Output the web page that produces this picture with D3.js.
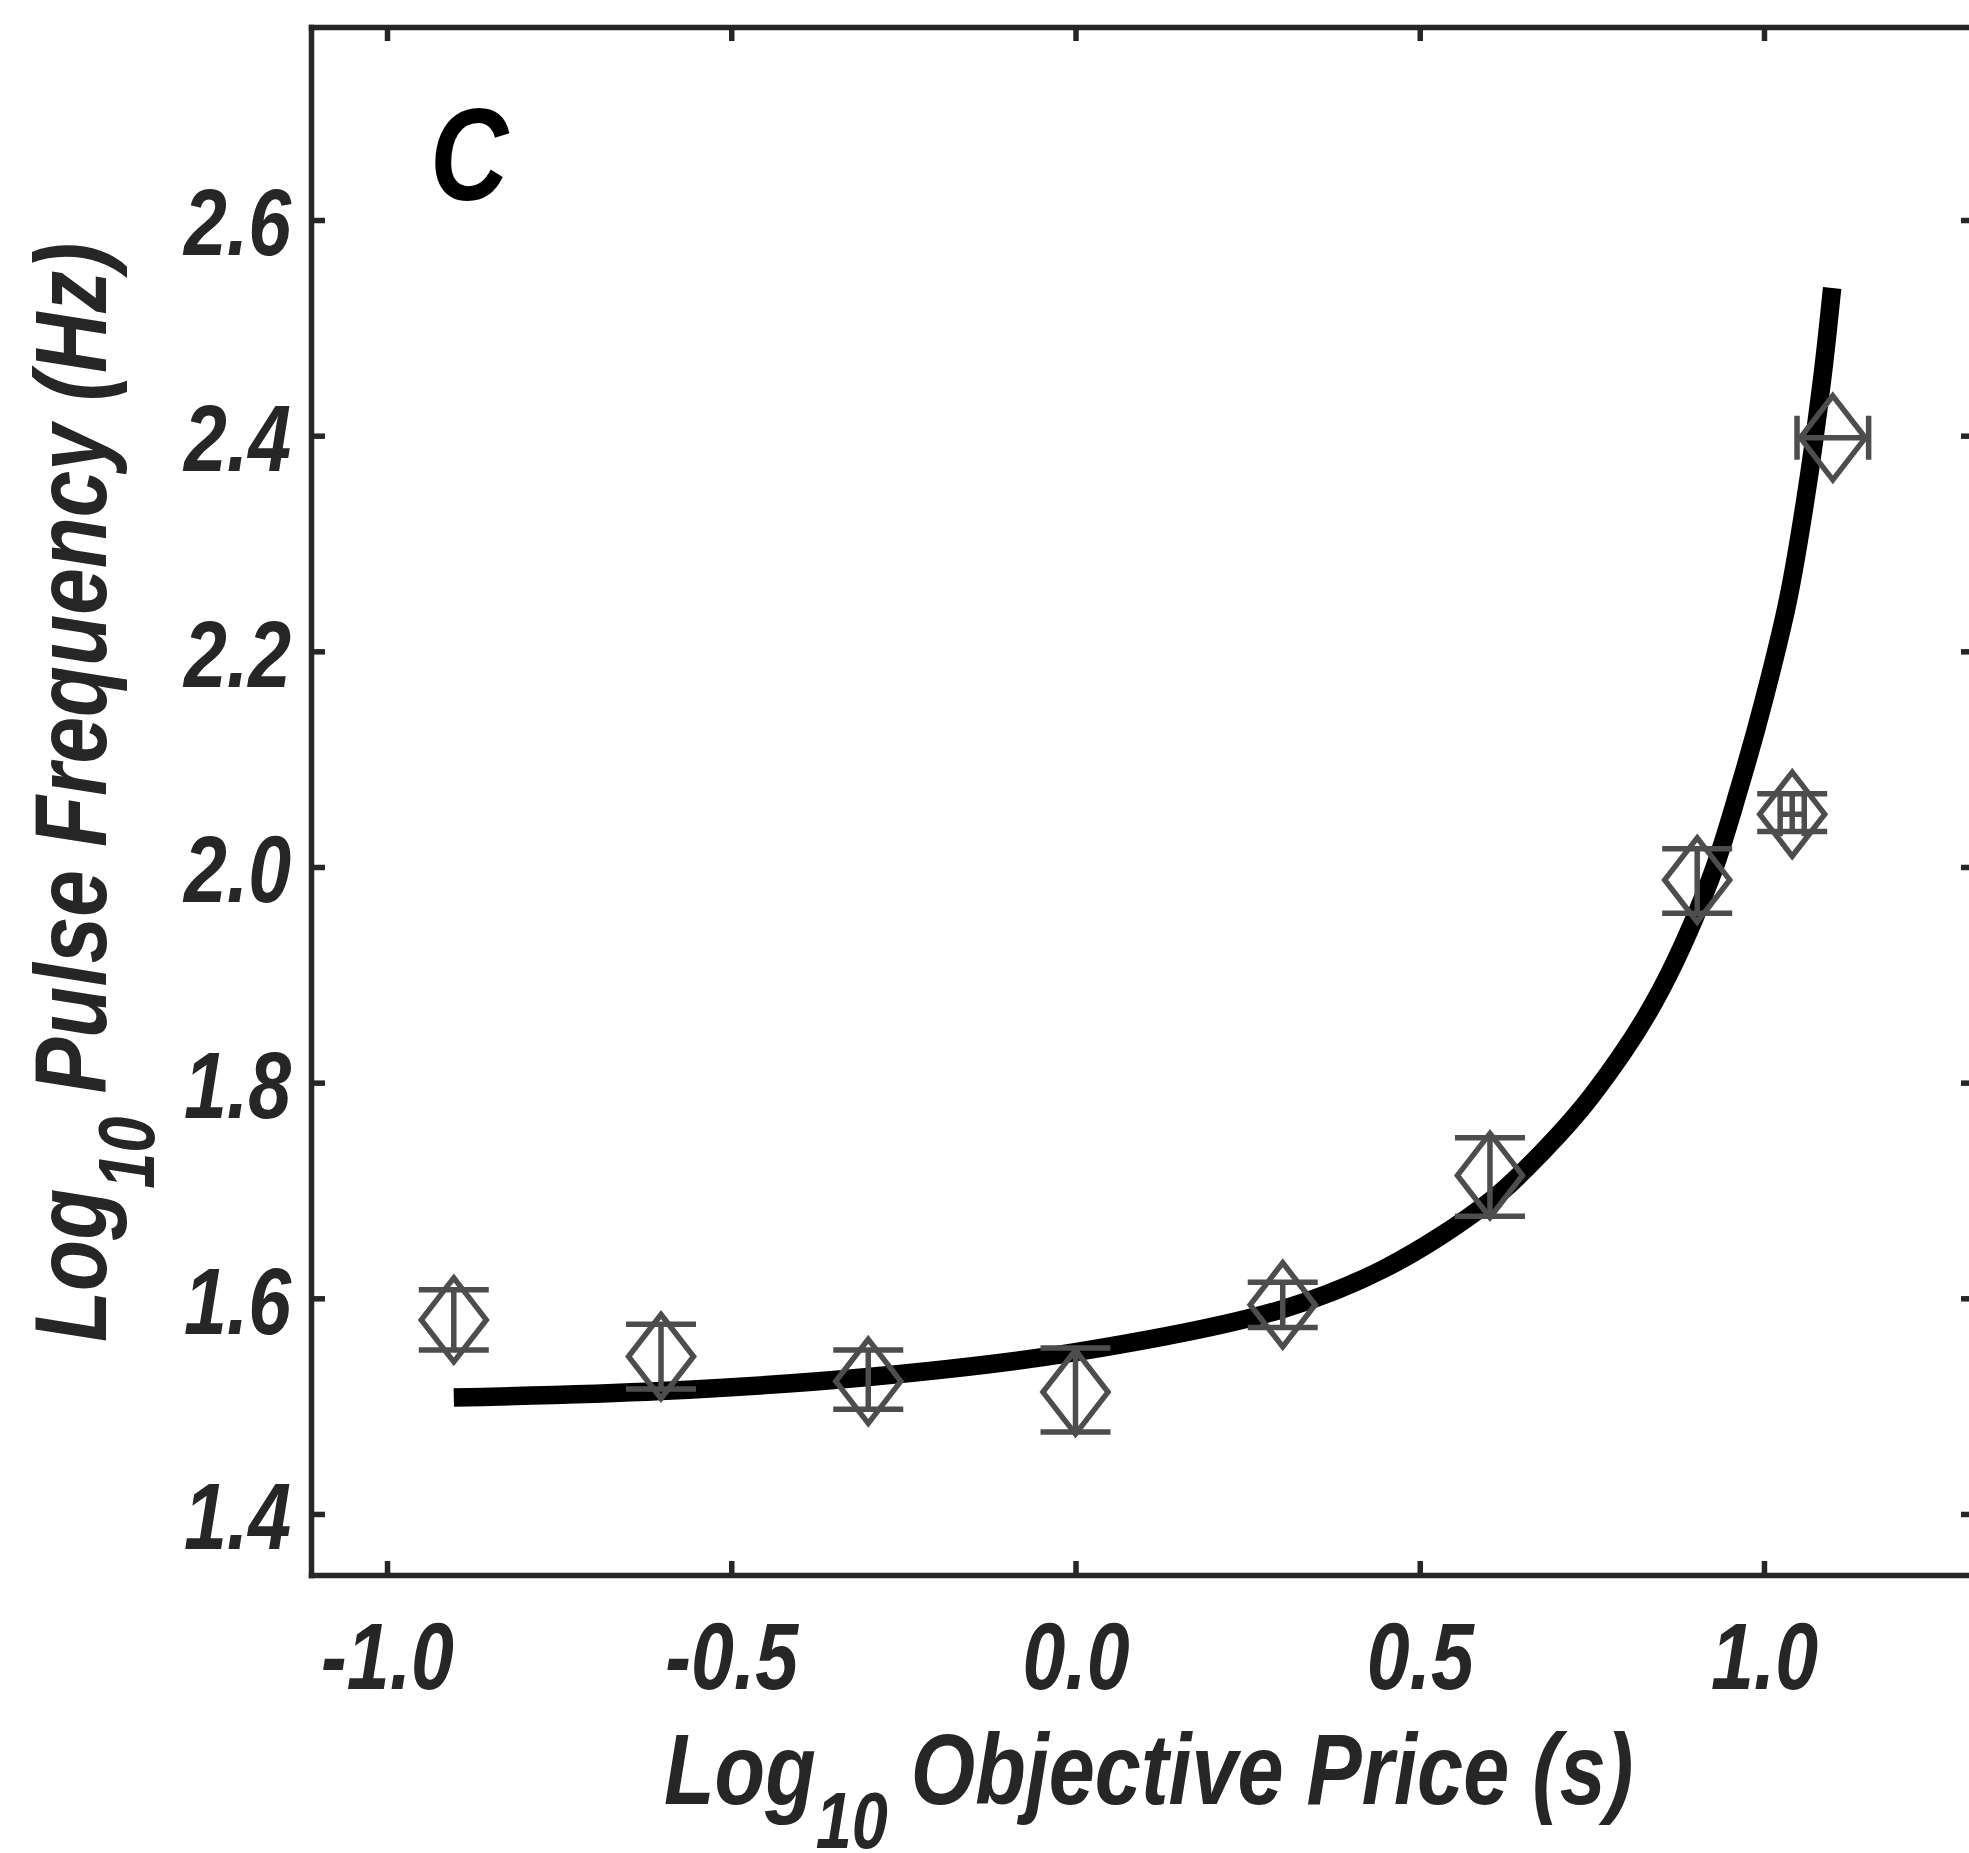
<!DOCTYPE html>
<html>
<head>
<meta charset="utf-8">
<script src="https://cdn.jsdelivr.net/npm/d3@7"></script>
<style>
  body { margin: 0; background: #fff; }
  svg text {
    font-family: 'Liberation Sans', Arial, sans-serif;
    font-weight: bold;
    font-style: italic;
  }
</style>
</head>
<body>
<svg id="chart" width="1969" height="1853"></svg>
<script>
// data (log10 units)
var priceLog  = [-0.903, -0.602, -0.301, 0.000, 0.301, 0.602, 0.903, 1.041, 1.100];
var freqLog   = [1.580, 1.546, 1.523, 1.513, 1.594, 1.714, 1.988, 2.049, 2.398];
var freqLow   = [1.552, 1.516, 1.497, 1.476, 1.573, 1.676, 1.957, 2.033, 2.398];
var freqHigh  = [1.608, 1.576, 1.552, 1.554, 1.615, 1.749, 2.017, 2.068, 2.398];
var priceErr  = [0, 0, 0, 0, 0, 0, 0, 0.0175, 0.052];

// fitted curve, sampled by eye along the drawn line
var fitPrice = [-0.903, -0.602, -0.301, 0.000, 0.301, 0.450, 0.602, 0.680, 0.750, 0.840, 0.921, 0.965, 1.000, 1.035, 1.060, 1.084, 1.099];
var fitFreq  = [1.508, 1.514, 1.527, 1.550, 1.590, 1.628, 1.690, 1.737, 1.788, 1.874, 1.987, 2.075, 2.155, 2.248, 2.340, 2.450, 2.537];

var xTicks = [-1.0, -0.5, 0.0, 0.5, 1.0];
var yTicks = [1.4, 1.6, 1.8, 2.0, 2.2, 2.4, 2.6];

var axisColor = '#262626';
var markColor = '#4d4d4d';
// no narrow face installed, so squeeze the bold italic one
var narrow = 0.82;

var svg = d3.select('#chart');

// frame: left 311, right 1975 (just off the page), top 27, bottom 1575
var x = d3.scaleLinear().domain([-1.1104, 1.3065]).range([311, 1975]);
var y = d3.scaleLinear().domain([1.3434, 2.779]).range([1575, 27]);

var fmt = function (d) { return d.toFixed(1); };

function styleAxis(g) {
    g.select('.domain').attr('stroke', axisColor).attr('stroke-width', 5.5).attr('stroke-linecap', 'square');
    g.selectAll('.tick line').attr('stroke', axisColor).attr('stroke-width', 5.5);
    g.selectAll('.tick text').attr('fill', axisColor).attr('font-size', 94)
        .attr('font-family', null);
}

// bottom axis with labels, ticks pointing inward
var gx = svg.append('g').attr('transform', 'translate(0,' + y.range()[0] + ')')
    .call(d3.axisBottom(x).tickValues(xTicks).tickFormat(fmt).tickSizeInner(-14).tickSizeOuter(0).tickPadding(47));
gx.call(styleAxis);
gx.selectAll('.tick text').attr('transform', 'scale(' + narrow + ',1)');

var gy = svg.append('g').attr('transform', 'translate(' + x.range()[0] + ',0)')
    .call(d3.axisLeft(y).tickValues(yTicks).tickFormat(fmt).tickSizeInner(-14).tickSizeOuter(0).tickPadding(20));
gy.call(styleAxis);
gy.selectAll('.tick text')
    .attr('dy', '0.37em')
    .attr('x', -20 / narrow)
    .attr('transform', 'scale(' + narrow + ',1)');

// top and right: ticks only
var gt = svg.append('g').attr('transform', 'translate(0,' + y.range()[1] + ')')
    .call(d3.axisTop(x).tickValues(xTicks).tickFormat('').tickSizeInner(-14).tickSizeOuter(0));
gt.call(styleAxis);

var gr = svg.append('g').attr('transform', 'translate(' + x.range()[1] + ',0)')
    .call(d3.axisRight(y).tickValues(yTicks).tickFormat('').tickSizeInner(-14).tickSizeOuter(0));
gr.call(styleAxis);

// fitted curve
var line = d3.line()
    .x(function (d) { return x(d[0]); })
    .y(function (d) { return y(d[1]); })
    .curve(d3.curveCatmullRom.alpha(0.5));

svg.append('path')
    .datum(d3.zip(fitPrice, fitFreq))
    .attr('d', line)
    .attr('fill', 'none')
    .attr('stroke', '#000')
    .attr('stroke-width', 18.5)
    .attr('stroke-linecap', 'butt');

// data points: diamond + error bars
var points = priceLog.map(function (p, i) {
    return { x: p, y: freqLog[i], lo: freqLow[i], hi: freqHigh[i], xe: priceErr[i] };
});

var dw = 32.5, dh = 42, capV = 35, capH = 22;

var pts = svg.append('g')
    .attr('fill', 'none')
    .attr('stroke', markColor)
    .attr('stroke-width', 5.5)
    .selectAll('g')
    .data(points)
    .enter()
    .append('g')
    .attr('transform', function (d) { return 'translate(' + x(d.x) + ',' + y(d.y) + ')'; });

pts.append('path')
    .attr('stroke-linejoin', 'miter')
    .attr('d', 'M0,' + (-dh) + 'L' + dw + ',0L0,' + dh + 'L' + (-dw) + ',0Z');

pts.filter(function (d) { return d.hi > d.lo; })
    .append('path')
    .attr('d', function (d) {
        var t = y(d.hi) - y(d.y), b = y(d.lo) - y(d.y);
        return 'M0,' + t + 'V' + b +
            'M' + (-capV) + ',' + t + 'H' + capV +
            'M' + (-capV) + ',' + b + 'H' + capV;
    });

pts.filter(function (d) { return d.xe > 0; })
    .append('path')
    .attr('d', function (d) {
        var l = x(d.x - d.xe) - x(d.x), r = x(d.x + d.xe) - x(d.x);
        return 'M' + l + ',0H' + r +
            'M' + l + ',' + (-capH) + 'V' + capH +
            'M' + r + ',' + (-capH) + 'V' + capH;
    });

// panel letter
svg.append('text')
    .attr('transform', 'translate(430,200) scale(' + narrow + ',1)')
    .attr('font-size', 132)
    .attr('fill', '#000')
    .text('C');

// x axis title
var xl = svg.append('text')
    .attr('transform', 'translate(664,1804) scale(' + narrow + ',1)')
    .attr('font-size', 101)
    .attr('fill', axisColor);
xl.append('tspan').text('Log');
xl.append('tspan').attr('font-size', 79).attr('dy', 44).text('10');
xl.append('tspan').attr('dy', -44).text(' Objective Price (s)');

// y axis title
var yl = svg.append('text')
    .attr('transform', 'translate(106,1342) rotate(-90) scale(' + narrow + ',1)')
    .attr('font-size', 102)
    .attr('fill', axisColor);
yl.append('tspan').text('Log');
yl.append('tspan').attr('font-size', 79).attr('dy', 48).text('10');
yl.append('tspan').attr('dy', -48).text(' Pulse Frequency (Hz)');
</script>
</body>
</html>
